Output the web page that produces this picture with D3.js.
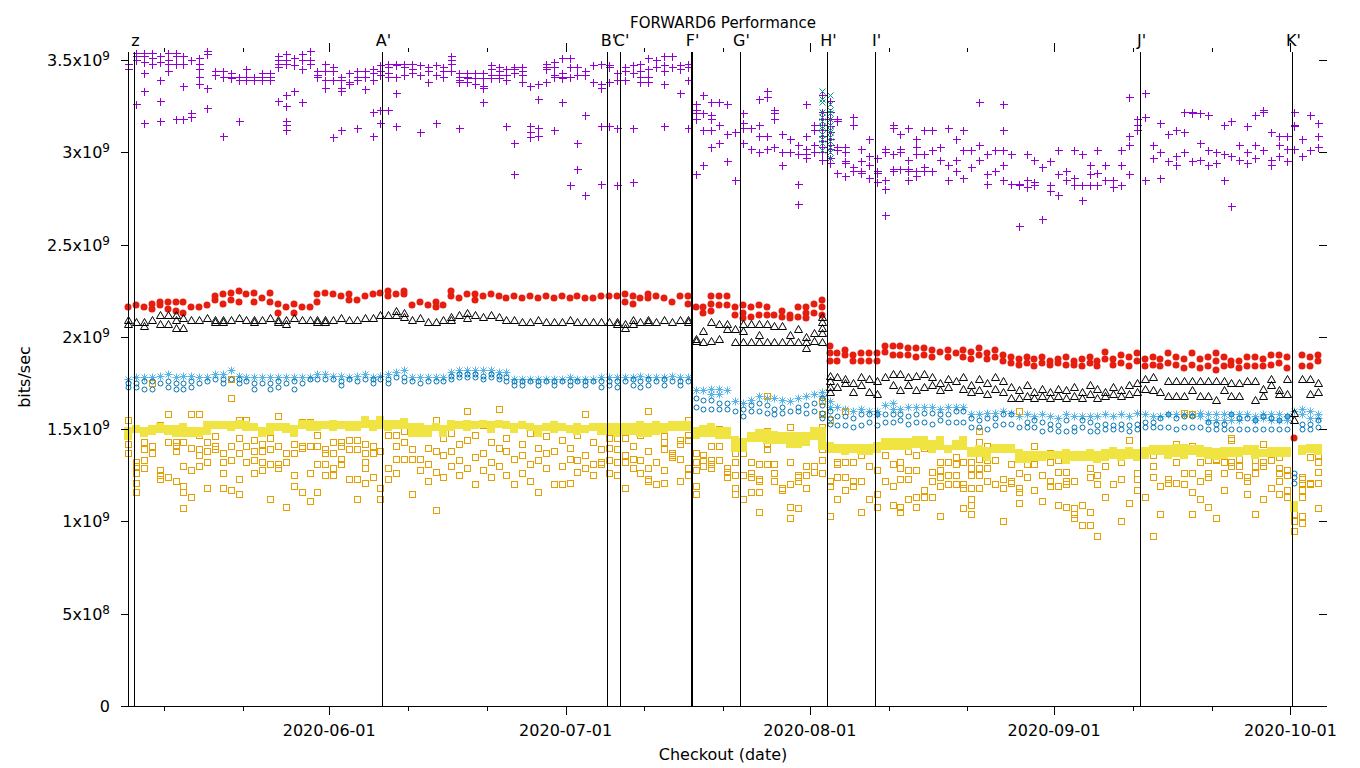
<!DOCTYPE html>
<html><head><meta charset="utf-8">
<script src="https://cdn.jsdelivr.net/npm/d3@7"></script>
<style>body{margin:0;background:#fff}svg{display:block}text{font-family:"DejaVu Sans",sans-serif;fill:#000}</style>
</head><body><svg id="c" width="1360" height="768"></svg>
<script>
// ---------- data ----------
const title = "FORWARD6 Performance";
const xLabel = "Checkout (date)";
const yLabel = "bits/sec";
const firstDay = "2020-05-06T12:00:00Z";   // day 0
const UNIT = 1e9;                            // values below are in 1e9 bits/sec
const yMax = 3.543;
const yTicks = [0, 0.5, 1, 1.5, 2, 2.5, 3, 3.5];
const monthTicks = ["2020-06-01","2020-07-01","2020-08-01","2020-09-01","2020-10-01"];
const minorTicks = ["2020-05-11","2020-05-21","2020-06-11","2020-06-21","2020-07-11","2020-07-21","2020-08-11","2020-08-21","2020-09-11","2020-09-21"];
const eventLabels = ["z","A'","B'","C'","F'","G'","H'","I'","J'","K'"];
const eventDays = [0.72, 32.2, 60.75, 62.4, 71.38, 77.64, 88.68, 94.77, 128.4, 147.7];

// each entry: [day, value, value, ...]
const purple = [
[0,3.48,3.45],[1,3.54,3.52,3.50,3.26],[2,3.54,3.52,3.49,3.43,3.33,3.16],[3,3.54,3.51,3.48],[4,3.52,3.49,3.39,3.28,3.17],[5,3.54,3.50,3.48,3.44],[6,3.54,3.52,3.48,3.18],[7,3.52,3.48,3.36,3.18],[8,3.50,3.21,3.19],[9,3.51,3.48,3.45,3.41,3.37],
[10,3.55,3.53,3.35,3.24],[11,3.44,3.42],[12,3.44,3.41,3.09],[13,3.43,3.41,3.40],[14,3.41,3.39,3.17],[15,3.45,3.41,3.39],[16,3.41,3.39],[17,3.43,3.41,3.39],[18,3.43,3.41,3.39],[19,3.52,3.50,3.48,3.46,3.28],
[20,3.53,3.50,3.48,3.31,3.25,3.17,3.15,3.12],[21,3.51,3.47,3.33],[22,3.53,3.50,3.45,3.27],[23,3.55,3.50,3.48],[24,3.44,3.42,3.41],[25,3.48,3.44,3.39,3.35],[26,3.46,3.44,3.39,3.08],[27,3.41,3.39,3.35,3.33,3.12],[28,3.43,3.38,3.37],[29,3.44,3.41,3.39,3.13],
[30,3.44,3.41,3.34],[31,3.45,3.43,3.39,3.22,3.09],[32,3.47,3.44,3.42,3.23,3.16],[33,3.48,3.46,3.43,3.41,3.23],[34,3.48,3.47,3.41,3.32,3.14],[35,3.48,3.46,3.42],[36,3.48,3.45,3.43],[37,3.47,3.42,3.11],[38,3.46,3.44,3.38,3.38],[39,3.47,3.42,3.16],
[40,3.46,3.44,3.41],[41,3.52,3.50,3.48,3.44],[42,3.43,3.41,3.39,3.38,3.13],[43,3.43,3.41,3.40,3.38],[44,3.43,3.40,3.37],[45,3.43,3.40,3.36,3.35,3.27],[46,3.47,3.45,3.42,3.40],[47,3.46,3.44,3.42,3.40],[48,3.45,3.42,3.39,3.14],[49,3.46,3.45,3.43,3.05,2.88],
[50,3.46,3.44,3.42,3.38],[51,3.36,3.14,3.11,3.08],[52,3.37,3.29,3.13,3.09],[53,3.48,3.46,3.45,3.38],[54,3.49,3.46,3.42,3.41,3.12],[55,3.51,3.43,3.41,3.40,3.27],[56,3.51,3.46,3.41,2.82],[57,3.46,3.42,3.05,2.91],[58,3.44,3.42,3.20,2.77],[59,3.47,3.38],
[60,3.48,3.37,3.35,3.14,2.83],[61,3.47,3.46,3.38,3.14],[62,3.43,3.39,3.13,2.82],[63,3.46,3.44,3.39],[64,3.47,3.43,3.13,2.84],[65,3.48,3.44,3.41,3.38],[66,3.51,3.45,3.41,3.38],[67,3.50,3.46],[68,3.52,3.47,3.44,3.37,3.14],[69,3.52,3.46],
[70,3.47,3.45,3.32],[71,3.48,3.46,3.39,3.13],[72,3.26,3.23,3.21,3.18,2.88],[73,3.31,3.21,3.12,2.93],[74,3.27,3.20,3.18,3.12,3.03],[75,3.27,3.15,3.05],[76,3.26,3.10,2.95],[77,3.11,2.85],[78,3.21,3.16,3.13,3.05],[79,3.13,3.02],
[80,3.29,3.15,3.09,3.00],[81,3.33,3.30,3.09,3.02],[82,3.23,3.21,3.18,3.03],[83,3.10,3.00,2.93],[84,3.07,3.00],[85,3.04,2.99,2.83,2.72],[86,3.26,3.09,3.02,2.99,2.97],[87,3.15,3.12,3.04,3.00],[88,3.31,3.22,3.18,3.15,3.12,3.09,3.06,3.03,3.00,2.96],[89,3.28,3.22,3.18,3.14,3.11,3.07,3.04,3.02,2.97,2.94],
[90,3.18,3.17,3.03,3.01,2.89],[91,3.03,3.00,2.95,2.94,2.87],[92,3.19,3.15,2.92,2.90],[93,3.02,2.95,2.90,2.89],[94,3.07,2.98,2.93,2.86],[95,2.97,2.90,2.89,2.84],[96,3.02,3.00,2.85,2.80,2.66],[97,3.15,3.13,2.99,2.91,2.90],[98,3.10,3.02,3.00,2.91],[99,3.13,2.96,2.91,2.90,2.85],
[100,3.07,3.03,2.99,2.90,2.87],[101,3.12,2.99,2.92,2.90],[102,3.12,3.01,2.90],[103,3.03,2.96],[104,3.13,2.93,2.85],[105,3.07,2.96,2.90],[106,3.12,3.01,2.86],[107,3.01,2.92],[108,3.27,3.04,2.96],[109,2.99,2.88,2.83],
[110,3.01,2.90],[111,3.26,3.12,3.01,2.93,2.85],[112,2.99,2.83],[113,2.83,2.82,2.60],[114,2.99,2.85,2.81],[115,2.96,2.84,2.82],[116,2.92,2.64],[117,2.95,2.82,2.79],[118,3.01,2.88,2.77],[119,2.90,2.85],
[120,3.01,2.86,2.82],[121,2.99,2.82,2.74],[122,2.93,2.88,2.82],[123,3.01,2.89,2.82],[124,2.93,2.85],[125,2.85,2.81],[126,3.01,2.93,2.82],[127,3.30,3.09,3.04,2.88],[128,3.18,3.15,3.12],[129,3.32,3.19,2.85],
[130,3.04,2.97],[131,3.16,3.00,2.86],[132,3.10,2.95],[133,3.12,2.98,2.93],[134,3.22,3.11,3.00],[135,3.22,3.21,2.95],[136,3.21,3.05,2.96],[137,3.20,3.01,2.93],[138,3.00,2.94],[139,3.15,2.99,2.85],
[140,3.17,2.98,2.71],[141,3.04,2.96],[142,3.14,3.00,2.94],[143,3.20,3.04,2.97],[144,3.23,3.22,3.01],[145,3.11,2.96,2.93],[146,3.09,3.04,2.98],[147,3.09,3.02,2.95],[148,3.22,3.15,3.14,3.02],[149,3.07,2.98],
[150,3.20,3.01],[151,3.16,3.09,3.03]
];
const green = [
[88,3.33,3.29,3.27,3.22,3.19,3.17,3.14,3.13,3.10,3.07,3.05,3.01],
[89,3.31,3.26,3.23,3.21,3.18,3.15,3.12,3.11,3.08,3.06,3.03,3.00,2.97]
];
const skyblue = [
[0,1.77],[1,1.78],[2,1.78],[3,1.78],[4,1.79],[5,1.80],[6,1.78],[7,1.79],[8,1.79],[9,1.78],
[10,1.78],[11,1.80],[12,1.80],[13,1.82],[14,1.79],[15,1.78],[16,1.78],[17,1.78],[18,1.78],[19,1.78],
[20,1.78],[21,1.78],[22,1.78],[23,1.78],[24,1.80],[25,1.80],[26,1.79],[27,1.79],[28,1.78],[29,1.79],
[30,1.80],[31,1.78],[32,1.79],[33,1.80],[34,1.81],[35,1.82],[36,1.78],[37,1.78],[38,1.78],[39,1.78],
[40,1.78],[41,1.81],[42,1.82],[43,1.82],[44,1.82],[45,1.82],[46,1.82],[47,1.81],[48,1.81],[49,1.77],
[50,1.77],[51,1.77],[52,1.77],[53,1.77],[54,1.77],[55,1.77],[56,1.78],[57,1.77],[58,1.77],[59,1.77],
[60,1.78],[61,1.78],[62,1.78],[63,1.78],[64,1.78],[65,1.79],[66,1.78],[67,1.78],[68,1.78],[69,1.79],
[70,1.78],[71,1.78],[72,1.71],[73,1.71],[74,1.72,1.69],[75,1.72,1.69],[76,1.71],[77,1.65],[78,1.64],[79,1.66],
[80,1.68],[81,1.67],[82,1.67],[83,1.66],[84,1.65],[85,1.67],[86,1.68],[87,1.69],[88,1.70,1.68],[89,1.65,1.62],
[90,1.62],[91,1.61],[92,1.60],[93,1.61],[94,1.60],[95,1.60,1.58],[96,1.63],[97,1.64,1.61],[98,1.61],[99,1.62],
[100,1.62],[101,1.62],[102,1.62],[103,1.61],[104,1.62],[105,1.62],[106,1.62],[107,1.58],[108,1.58],[109,1.59],
[110,1.59],[111,1.60],[112,1.59],[113,1.57],[114,1.58],[115,1.57],[116,1.58],[117,1.57],[118,1.56],[119,1.58],
[120,1.57],[121,1.57],[122,1.57],[123,1.57],[124,1.58],[125,1.57],[126,1.58],[127,1.57],[128,1.59],[129,1.58],
[130,1.57],[131,1.57],[132,1.58],[133,1.58],[134,1.58],[135,1.58],[136,1.59,1.57],[137,1.58,1.55],[138,1.58,1.55],[139,1.58,1.55],
[140,1.58,1.55],[141,1.58,1.55],[142,1.58],[143,1.57,1.55],[144,1.58,1.56],[145,1.58,1.55],[146,1.58,1.55],[147,1.57,1.55],[148,1.60],[149,1.61,1.58],
[150,1.60,1.56],[151,1.58,1.56]
];
const orange = [
[0,1.55,1.42,1.37],[1,1.32,1.30,1.26,1.21,1.16],[2,1.43,1.39,1.33,1.29],[3,1.75,1.41,1.37],[4,1.52,1.28,1.25,1.23],[5,1.58,1.43,1.24],[6,1.43,1.41,1.38,1.22],[7,1.43,1.30,1.19,1.16,1.07],[8,1.58,1.40,1.28,1.13],[9,1.58,1.47,1.39,1.36,1.30],
[10,1.43,1.38,1.32,1.18],[11,1.46,1.41,1.39],[12,1.37,1.32,1.26,1.18],[13,1.77,1.67,1.41,1.33,1.17],[14,1.55,1.45,1.37,1.23,1.15],[15,1.55,1.41,1.32],[16,1.44,1.38,1.33,1.26],[17,1.42,1.38,1.32,1.28],[18,1.45,1.39,1.31,1.12],[19,1.57,1.41,1.31,1.29],
[20,1.37,1.32,1.08],[21,1.42,1.37,1.25,1.19],[22,1.54,1.41,1.40,1.16],[23,1.54,1.41,1.26,1.11],[24,1.47,1.41,1.31,1.16],[25,1.39,1.37,1.31,1.25],[26,1.43,1.37,1.29,1.25],[27,1.43,1.41,1.34,1.31],[28,1.44,1.39,1.23],[29,1.44,1.39,1.23,1.12],
[30,1.42,1.37,1.32,1.29,1.21],[31,1.41,1.37,1.24],[32,1.38,1.18,1.12],[33,1.47,1.29,1.23],[34,1.47,1.41,1.34,1.26],[35,1.49,1.43,1.34],[36,1.39,1.34,1.15],[37,1.50,1.34,1.28],[38,1.40,1.31,1.22],[39,1.55,1.38,1.27,1.06],
[40,1.45,1.36,1.24],[41,1.48,1.38,1.30],[42,1.42,1.33,1.25],[43,1.60,1.44,1.29],[44,1.47,1.35,1.20],[45,1.52,1.37,1.28],[46,1.43,1.32,1.24],[47,1.61,1.40,1.30],[48,1.45,1.38,1.25],[49,1.50,1.34,1.20],
[50,1.42,1.36,1.26],[51,1.48,1.31,1.22],[52,1.40,1.33,1.16],[53,1.46,1.37,1.29],[54,1.51,1.38,1.20],[55,1.44,1.30,1.20],[56,1.40,1.34,1.21],[57,1.47,1.33,1.27],[58,1.58,1.36,1.29],[59,1.43,1.31,1.25],
[60,1.39,1.32,1.31],[61,1.45,1.40,1.33,1.26],[62,1.45,1.39,1.32,1.25],[63,1.45,1.36,1.32,1.18],[64,1.41,1.34,1.29],[65,1.47,1.33,1.26],[66,1.60,1.38,1.29,1.23,1.22],[67,1.32,1.20],[68,1.46,1.43,1.39,1.28,1.21],[69,1.37,1.36,1.35],
[70,1.44,1.42,1.34,1.22],[71,1.55,1.47,1.44,1.29,1.25],[72,1.37,1.32,1.28,1.19,1.15],[73,1.36,1.33,1.30],[74,1.51,1.41,1.33,1.31,1.29],[75,1.50,1.41,1.33],[76,1.29,1.27,1.24],[77,1.37,1.32,1.25,1.18,1.15],[78,1.37,1.25,1.12],[79,1.32,1.26,1.24,1.16],
[80,1.31,1.23,1.22,1.16,1.05],[81,1.68,1.49,1.42,1.39,1.31],[82,1.31,1.26,1.22],[83,1.18,1.17],[84,1.51,1.32,1.20,1.08,1.02],[85,1.46,1.25,1.24,1.22,1.07],[86,1.46,1.30,1.25,1.18],[87,1.46,1.30,1.27],[88,1.65,1.58,1.51,1.42,1.39,1.33,1.26],[89,1.55,1.22,1.19,1.03],
[90,1.32,1.31,1.24,1.12],[91,1.60,1.32,1.24,1.17],[92,1.32,1.22,1.19],[93,1.36,1.22,1.05],[94,1.30,1.12],[95,1.28,1.15,1.08],[96,1.36,1.22],[97,1.31,1.19,1.09],[98,1.32,1.29,1.23,1.08,1.05],[99,1.38,1.28,1.23,1.12],
[100,1.36,1.28,1.13,1.08],[101,1.40,1.17,1.13],[102,1.27,1.22,1.13],[103,1.32,1.28,1.24,1.19,1.03],[104,1.32,1.25,1.20],[105,1.35,1.31,1.25,1.20],[106,1.32,1.20,1.18,1.07],[107,1.32,1.29,1.25,1.18,1.12,1.09,1.04],[108,1.49,1.43,1.34,1.29,1.25,1.18],[109,1.41,1.33,1.29,1.22],
[110,1.33,1.20],[111,1.23,1.18,1.00],[112,1.31,1.22,1.21],[113,1.60,1.26,1.18,1.16,1.10],[114,1.31,1.24],[115,1.41,1.31,1.17],[116,1.25,1.11],[117,1.37,1.32,1.22,1.19],[118,1.33,1.27,1.19,1.09],[119,1.27,1.22,1.20,1.08],
[120,1.22,1.07,1.04,1.02],[121,1.09,0.98],[122,1.29,1.24,1.05,0.98],[123,1.25,1.20,0.92],[124,1.30,1.13],[125,1.37,1.20],[126,1.32,1.23,1.00],[127,1.44,1.10],[128,1.26,1.23,1.17],[129,1.37,1.13],
[130,1.36,1.30,1.24,0.92],[131,1.19,1.04],[132,1.23,1.21],[133,1.42,1.32,1.21],[134,1.59,1.26,1.20],[135,1.58,1.41,1.26,1.16,1.04],[136,1.32,1.22,1.12],[137,1.33,1.26,1.24,1.08],[138,1.34,1.33,1.02],[139,1.32,1.26,1.17],
[140,1.45,1.44,1.32,1.30],[141,1.34,1.30,1.25],[142,1.24,1.22,1.15],[143,1.33,1.30,1.26,1.04],[144,1.42,1.32,1.30,1.12],[145,1.33,1.18],[146,1.35,1.29,1.26,1.22,1.15],[147,1.28,1.25,1.17,1.13],[148,1.04,1.00,0.95],[149,1.24,1.23,1.21,1.17,1.13,1.03,0.99],
[150,1.35,1.21,1.20],[151,1.36,1.32,1.27,1.21,1.07]
];
const yellow = [
[0,1.49,1.46],[1,1.50],[2,1.49,1.48],[3,1.50,1.49],[4,1.51,1.50],[5,1.50,1.49],[6,1.50,1.48],[7,1.51,1.48],[8,1.49,1.48],[9,1.49,1.48],
[10,1.52,1.49],[11,1.52],[12,1.52],[13,1.52,1.51],[14,1.53,1.52],[15,1.52,1.51],[16,1.51],[17,1.49,1.48],[18,1.51,1.49],[19,1.51],
[20,1.51,1.50],[21,1.50,1.48],[22,1.53,1.52],[23,1.53,1.51],[24,1.52,1.51],[25,1.52],[26,1.53,1.51],[27,1.52],[28,1.52,1.51],[29,1.52,1.51],
[30,1.55,1.53],[31,1.53,1.51],[32,1.55,1.52],[33,1.53,1.51],[34,1.53,1.52],[35,1.54,1.52],[36,1.51,1.48],[37,1.51,1.48],[38,1.50,1.48],[39,1.51],
[40,1.50,1.48],[41,1.53,1.51],[42,1.52],[43,1.53,1.51],[44,1.52],[45,1.53],[46,1.52,1.50],[47,1.53],[48,1.52],[49,1.51,1.50],
[50,1.52],[51,1.51],[52,1.50,1.48],[53,1.51],[54,1.52,1.50],[55,1.51],[56,1.50],[57,1.51,1.49],[58,1.50],[59,1.51],
[60,1.51,1.49],[61,1.51,1.49],[62,1.51,1.48],[63,1.51,1.49],[64,1.51,1.49],[65,1.52,1.48],[66,1.51,1.48],[67,1.52,1.49],[68,1.51,1.50],[69,1.52,1.51],
[70,1.52,1.51],[71,1.52,1.51],[72,1.49,1.47],[73,1.50,1.48],[74,1.51,1.48],[75,1.49,1.47],[76,1.49,1.47],[77,1.44,1.40],[78,1.43,1.40],[79,1.46,1.45],
[80,1.48,1.45],[81,1.48,1.44],[82,1.47,1.44],[83,1.46,1.44],[84,1.46,1.42],[85,1.46,1.42],[86,1.46,1.43],[87,1.49,1.46],[88,1.49,1.45,1.41],[89,1.41,1.39],
[90,1.40,1.39],[91,1.40,1.38],[92,1.40,1.39],[93,1.40,1.38],[94,1.40,1.38],[95,1.41,1.39],[96,1.43,1.41],[97,1.43,1.41],[98,1.43,1.41],[99,1.43,1.41],
[100,1.44,1.42],[101,1.44,1.41],[102,1.42,1.39],[103,1.44,1.41],[104,1.39],[105,1.42,1.41],[106,1.44,1.41],[107,1.38,1.37],[108,1.39,1.37],[109,1.38,1.35],
[110,1.40,1.39],[111,1.40,1.39],[112,1.40,1.39],[113,1.37,1.34],[114,1.36,1.34],[115,1.36,1.35],[116,1.36,1.35],[117,1.36],[118,1.36],[119,1.37,1.33],
[120,1.36,1.35],[121,1.36,1.35],[122,1.37,1.35],[123,1.36,1.34],[124,1.37,1.35],[125,1.38,1.36],[126,1.37,1.35],[127,1.38,1.36],[128,1.37,1.35],[129,1.38,1.36],
[130,1.39,1.38],[131,1.39,1.38],[132,1.39,1.36],[133,1.40,1.37],[134,1.40,1.36],[135,1.39,1.38],[136,1.39,1.37],[137,1.38,1.36],[138,1.375,1.355],[139,1.38,1.36],
[140,1.38,1.37],[141,1.38,1.37],[142,1.39,1.38],[143,1.39,1.36],[144,1.37],[145,1.38,1.37],[146,1.38,1.37],[147,1.38,1.37],[148,1.09,1.07],[149,1.39,1.38],
[150,1.40,1.39],[151,1.40,1.38]
];
const blue = [
[0,1.75,1.73],[1,1.75,1.73],[2,1.76,1.72],[3,1.76,1.72],[4,1.75],[5,1.76,1.73],[6,1.75,1.72],[7,1.75,1.72],[8,1.76,1.73],[9,1.75],
[10,1.76],[11,1.77],[12,1.77,1.75],[13,1.77],[14,1.77,1.75],[15,1.76],[16,1.75,1.72],[17,1.75],[18,1.75,1.72],[19,1.76,1.73],
[20,1.75],[21,1.76,1.72],[22,1.75],[23,1.77],[24,1.77],[25,1.77],[26,1.77],[27,1.76,1.74],[28,1.77],[29,1.76],
[30,1.77],[31,1.77,1.75],[32,1.77],[33,1.77,1.75],[34,1.78],[35,1.78,1.76],[36,1.76],[37,1.75],[38,1.76],[39,1.76],
[40,1.76],[41,1.79,1.77],[42,1.80,1.78],[43,1.80,1.78],[44,1.80,1.78],[45,1.79,1.77],[46,1.80,1.78],[47,1.79,1.77],[48,1.78,1.76],[49,1.76,1.74],
[50,1.76,1.74],[51,1.76],[52,1.76,1.74],[53,1.76],[54,1.76,1.74],[55,1.76],[56,1.76,1.74],[57,1.76],[58,1.76,1.74],[59,1.76],
[60,1.76,1.73],[61,1.76,1.74],[62,1.76,1.73],[63,1.76],[64,1.77,1.74],[65,1.76,1.73],[66,1.77,1.74],[67,1.76],[68,1.77,1.74],[69,1.76],
[70,1.76,1.74],[71,1.76],[72,1.67,1.62],[73,1.66,1.61],[74,1.66,1.61],[75,1.64,1.61],[76,1.64,1.61],[77,1.60],[78,1.61,1.57],[79,1.63,1.60],
[80,1.64,1.60],[81,1.63,1.59],[82,1.61,1.58],[83,1.62,1.59],[84,1.60],[85,1.62,1.60],[86,1.63,1.59],[87,1.64,1.60],[88,1.67,1.63,1.59,1.56],[89,1.60,1.56,1.53],
[90,1.57,1.52],[91,1.57,1.52],[92,1.56,1.51],[93,1.58,1.52],[94,1.58,1.54],[95,1.58,1.52],[96,1.58,1.54],[97,1.58,1.54],[98,1.58,1.55],[99,1.57,1.53],
[100,1.58,1.54],[101,1.59,1.54],[102,1.59,1.53],[103,1.58,1.55],[104,1.58,1.54],[105,1.60,1.54],[106,1.60,1.54],[107,1.56,1.51],[108,1.55,1.51],[109,1.56,1.50],
[110,1.56,1.52],[111,1.58,1.53],[112,1.58,1.53],[113,1.51],[114,1.54,1.51],[115,1.55,1.51],[116,1.54,1.49],[117,1.53,1.50],[118,1.52,1.49],[119,1.55,1.49],
[120,1.51,1.49],[121,1.55,1.51],[122,1.54,1.49],[123,1.52,1.49],[124,1.53,1.50],[125,1.52,1.50],[126,1.53,1.50],[127,1.52,1.49],[128,1.53,1.50],[129,1.54,1.51],
[130,1.54,1.51],[131,1.56,1.51],[132,1.58,1.51],[133,1.56,1.50],[134,1.57,1.51],[135,1.57,1.51],[136,1.51],[137,1.54,1.50],[138,1.53,1.50],[139,1.53,1.50],
[140,1.58,1.50],[141,1.56,1.50],[142,1.56,1.50],[143,1.55,1.50],[144,1.57,1.50],[145,1.56,1.50],[146,1.55,1.50],[147,1.57,1.50],[148,1.26,1.24,1.21],[149,1.53,1.50],
[150,1.53,1.50],[151,1.55,1.51]
];
const red = [
[0,2.16],[1,2.17],[2,2.16],[3,2.15,2.18],[4,2.17,2.19],[5,2.15,2.19],[6,2.14,2.19],[7,2.13,2.19],[8,2.16],[9,2.16],
[10,2.17],[11,2.20,2.22],[12,2.18,2.23],[13,2.20,2.24],[14,2.19,2.25],[15,2.23],[16,2.19,2.24],[17,2.21],[18,2.19,2.24],[19,2.13,2.18],
[20,2.16],[21,2.13,2.18],[22,2.16],[23,2.16],[24,2.19,2.23],[25,2.24],[26,2.23],[27,2.22],[28,2.20,2.23],[29,2.20],
[30,2.22],[31,2.23],[32,2.24],[33,2.22,2.25],[34,2.23],[35,2.23,2.25],[36,2.17],[37,2.19],[38,2.17],[39,2.16,2.19],
[40,2.17],[41,2.22,2.25],[42,2.21],[43,2.23],[44,2.20,2.23],[45,2.22],[46,2.23],[47,2.22],[48,2.21],[49,2.22],
[50,2.21],[51,2.22],[52,2.21],[53,2.22],[54,2.21],[55,2.22],[56,2.21],[57,2.22],[58,2.21],[59,2.21],
[60,2.22],[61,2.22],[62,2.22],[63,2.23,2.19],[64,2.22,2.18],[65,2.21],[66,2.23,2.21],[67,2.22],[68,2.21],[69,2.19],
[70,2.22],[71,2.22,2.18],[72,2.16],[73,2.16,2.13],[74,2.22,2.18,2.14],[75,2.22,2.17],[76,2.22,2.17],[77,2.16,2.12],[78,2.17,2.13,2.10],[79,2.16,2.11],
[80,2.17,2.12],[81,2.16,2.12],[82,2.12],[83,2.14,2.11],[84,2.12,2.10],[85,2.16,2.11],[86,2.16,2.13,2.10],[87,2.18,2.13],[88,2.20,2.16,2.12],[89,1.95,1.91,1.87],
[90,1.91,1.87],[91,1.93,1.90],[92,1.90,1.87],[93,1.91,1.87],[94,1.91,1.87],[95,1.91,1.87],[96,1.95,1.92],[97,1.95,1.90],[98,1.95,1.90],[99,1.94,1.90],
[100,1.94,1.89],[101,1.94,1.90],[102,1.93,1.89],[103,1.92],[104,1.93,1.89],[105,1.91],[106,1.93,1.89],[107,1.92,1.88],[108,1.94,1.90],[109,1.91,1.88],
[110,1.93,1.89],[111,1.90,1.87],[112,1.89,1.86],[113,1.88,1.85],[114,1.89,1.86],[115,1.88,1.84],[116,1.89,1.86],[117,1.87,1.85],[118,1.88,1.86],[119,1.89,1.85],
[120,1.87,1.85],[121,1.88,1.84],[122,1.89,1.86],[123,1.87,1.84],[124,1.92,1.88],[125,1.88,1.85],[126,1.90,1.86],[127,1.89,1.84],[128,1.91,1.87],[129,1.88,1.84],
[130,1.89,1.85],[131,1.88,1.84],[132,1.91,1.86],[133,1.89,1.85],[134,1.88,1.83],[135,1.91,1.85],[136,1.88,1.83],[137,1.89,1.84],[138,1.91,1.87,1.82],[139,1.89,1.84],
[140,1.87,1.85],[141,1.87,1.83],[142,1.89,1.84],[143,1.89,1.84],[144,1.88,1.84],[145,1.90,1.85],[146,1.90,1.86],[147,1.89,1.83],[148,1.45],[149,1.90,1.84],
[150,1.89,1.84],[151,1.90,1.87]
];
const black = [
[0,2.07,2.09],[1,2.08],[2,2.06,2.08],[3,2.09],[4,2.07,2.12],[5,2.07,2.12],[6,2.05,2.09,2.12],[7,2.05,2.10],[8,2.09],[9,2.09],
[10,2.10],[11,2.08,2.09],[12,2.08,2.09],[13,2.09],[14,2.10],[15,2.09],[16,2.08,2.09],[17,2.09],[18,2.10],[19,2.08,2.09],
[20,2.07,2.09],[21,2.10],[22,2.09],[23,2.09],[24,2.08,2.09],[25,2.08,2.09],[26,2.09],[27,2.10],[28,2.09],[29,2.09],
[30,2.10],[31,2.10],[32,2.12],[33,2.12],[34,2.12,2.14],[35,2.11,2.13],[36,2.09],[37,2.10],[38,2.08],[39,2.08],
[40,2.09],[41,2.09,2.11],[42,2.12],[43,2.10,2.13],[44,2.12],[45,2.11],[46,2.12],[47,2.11],[48,2.09],[49,2.09],
[50,2.08],[51,2.08],[52,2.09],[53,2.08],[54,2.08],[55,2.08],[56,2.09],[57,2.08],[58,2.08],[59,2.08],
[60,2.08],[61,2.08],[62,2.07,2.08],[63,2.05,2.07],[64,2.07,2.09],[65,2.08],[66,2.08,2.09],[67,2.08],[68,2.09],[69,2.08],
[70,2.09],[71,2.08,2.09],[72,1.99,1.98],[73,2.03,1.97],[74,2.08,1.98],[75,2.07,1.99],[76,2.07,2.04],[77,2.04,1.97],[78,2.07,2.03,1.97],[79,2.07,1.97],
[80,2.07,2.01,1.97],[81,2.07,1.97],[82,2.06,1.97],[83,2.06,1.97],[84,2.01,1.97],[85,2.04,1.97],[86,2.00,1.97,1.94],[87,2.02,1.98],[88,2.11,2.08,2.05,2.02,1.97],[89,1.79,1.76,1.73,1.70],
[90,1.78,1.73],[91,1.77,1.75],[92,1.75,1.70],[93,1.78,1.74],[94,1.77,1.70],[95,1.76,1.69],[96,1.78],[97,1.80,1.74],[98,1.80,1.71],[99,1.78,1.74],
[100,1.79,1.71],[101,1.80,1.73],[102,1.78,1.74],[103,1.75,1.71],[104,1.77,1.73],[105,1.76],[106,1.78,1.72],[107,1.74,1.70],[108,1.77,1.71],[109,1.75,1.69],
[110,1.78,1.72],[111,1.76,1.70],[112,1.73,1.67],[113,1.71,1.67],[114,1.74,1.68],[115,1.70,1.67],[116,1.72,1.68],[117,1.70,1.67],[118,1.72,1.68],[119,1.71,1.67],
[120,1.73,1.68],[121,1.70,1.67],[122,1.74,1.69],[123,1.72,1.67],[124,1.70,1.68],[125,1.73,1.69],[126,1.71,1.68],[127,1.74,1.69],[128,1.75,1.70],[129,1.77,1.72],
[130,1.78,1.71],[131,1.70],[132,1.76,1.68],[133,1.76,1.68],[134,1.76,1.68],[135,1.76,1.71],[136,1.76,1.68],[137,1.76,1.68],[138,1.76,1.66],[139,1.76,1.71],
[140,1.75,1.68],[141,1.75,1.68],[142,1.76],[143,1.76,1.66],[144,1.72,1.68],[145,1.77,1.74],[146,1.71,1.69],[147,1.77,1.69],[148,1.59,1.55],[149,1.77],
[150,1.77,1.69],[151,1.75,1.70]
];

// ---------- styles ----------
const seriesStyle = [
  {data: purple,  color: "#9400D3", shape: "plus"},
  {data: green,   color: "#009E73", shape: "cross"},
  {data: skyblue, color: "#56B4E9", shape: "star"},
  {data: orange,  color: "#E69F00", shape: "openSquare"},
  {data: yellow,  color: "#F0E442", shape: "filledSquare"},
  {data: blue,    color: "#0072B2", shape: "openCircle"},
  {data: red,     color: "#E51E10", shape: "filledCircle"},
  {data: black,   color: "#000000", shape: "openTriangle"}
];
// stroked shapes are drawn around a half-pixel centre, filled ones around a whole-pixel centre
const shapes = {
  plus:        {d: "M-4,0H4M0,-4V4", fill: false, crisp: true},
  cross:       {d: "M-3,-3L3,3M-3,3L3,-3", fill: false, crisp: false},
  star:        {d: "M-4,0H4M0,-4V4M-3,-3L3,3M-3,3L3,-3", fill: false, crisp: false},
  openSquare:  {d: "M-3,-3H3V3H-3Z", fill: false, crisp: true},
  filledSquare:{d: "M-4,-4H4V4H-4Z", fill: true, crisp: true},
  openCircle:  {d: "M-2.5,0A2.5,2.5 0 1,0 2.5,0A2.5,2.5 0 1,0 -2.5,0", fill: false, crisp: false},
  filledCircle:{d: "M-3.5,0A3.5,3.5 0 1,0 3.5,0A3.5,3.5 0 1,0 -3.5,0", fill: true, crisp: false},
  openTriangle:{d: "M0,-4L4,3H-4Z", fill: false, crisp: false}
};

// ---------- layout ----------
const L = 128, R = 1319, T = 52, B = 706;
const svg = d3.select("#c");
const DAY = 864e5;
const t0 = new Date(firstDay).getTime();
const dayDate = k => new Date(t0 + k * DAY);
const x = d3.scaleUtc().domain([dayDate(-0.038), dayDate(151.12)]).range([L, R]);
const y = d3.scaleLinear().domain([0, yMax * UNIT]).range([B, T]);
const px = v => Math.round(v) + 0.5;

// points
const gPts = svg.append("g");
seriesStyle.forEach(s => {
  const pts = [];
  s.data.forEach(e => { for (let i = 1; i < e.length; i++) pts.push({k: e[0], v: e[i]}); });
  const sh = shapes[s.shape];
  const off = sh.fill ? 0 : 0.5;
  gPts.append("g").attr("shape-rendering", sh.crisp ? "crispEdges" : "auto")
    .selectAll("path").data(pts).join("path")
    .attr("d", sh.d)
    .attr("transform", d => `translate(${Math.round(x(dayDate(d.k))) + off},${Math.round(y(d.v * UNIT)) + off})`)
    .attr("fill", sh.fill ? s.color : "none")
    .attr("stroke", sh.fill ? "none" : s.color)
    .attr("stroke-width", 1);
});

// event lines
const gEv = svg.append("g");
eventLabels.forEach((lab, i) => {
  const xv = Math.round(x(dayDate(eventDays[i])));
  const w = lab === "F'" ? 2 : 1;
  gEv.append("line").attr("x1", xv + w / 2).attr("x2", xv + w / 2).attr("y1", T).attr("y2", B)
    .attr("stroke", "#000").attr("stroke-width", w).attr("shape-rendering", "crispEdges");
  gEv.append("text").attr("x", xv + 1.5).attr("y", 46).attr("text-anchor", "middle")
    .attr("font-size", 16).text(lab);
});

// axes
const gA = svg.append("g").attr("stroke", "#000").attr("stroke-width", 1).attr("shape-rendering", "crispEdges");
gA.append("line").attr("x1", L + 0.5).attr("x2", L + 0.5).attr("y1", T).attr("y2", B + 1);
gA.append("line").attr("x1", L).attr("x2", R).attr("y1", B + 0.5).attr("y2", B + 0.5);
yTicks.forEach(v => {
  const yy = px(y(v * UNIT));
  gA.append("line").attr("x1", L - 7).attr("x2", L).attr("y1", yy).attr("y2", yy);
  gA.append("line").attr("x1", R).attr("x2", R + 8).attr("y1", yy).attr("y2", yy);
});
monthTicks.forEach(s => {
  const xx = px(x(new Date(s + "T00:00:00Z")));
  gA.append("line").attr("x1", xx).attr("x2", xx).attr("y1", B).attr("y2", B + 9);
  gA.append("line").attr("x1", xx).attr("x2", xx).attr("y1", T).attr("y2", T - 9);
});
minorTicks.forEach(s => {
  const xx = px(x(new Date(s + "T00:00:00Z")));
  gA.append("line").attr("x1", xx).attr("x2", xx).attr("y1", B).attr("y2", B + 5);
  gA.append("line").attr("x1", xx).attr("x2", xx).attr("y1", T).attr("y2", T - 4);
});

// tick labels
const gL = svg.append("g").attr("font-size", 16);
yTicks.forEach(v => {
  const yy = y(v * UNIT) + 6;
  const t = gL.append("text").attr("x", 110).attr("y", yy).attr("text-anchor", "end");
  if (v === 0) { t.text("0"); return; }
  const val = v * UNIT;
  const e = Math.floor(Math.log10(val) + 1e-9);
  const m = +(val / Math.pow(10, e)).toFixed(2);
  t.append("tspan").text(m + "x10");
  t.append("tspan").attr("font-size", 12).attr("dy", -6).text(e);
});
const fmt = d3.utcFormat("%Y-%m-%d");
monthTicks.forEach(s => {
  const d = new Date(s + "T00:00:00Z");
  gL.append("text").attr("x", x(d)).attr("y", 736).attr("text-anchor", "middle").text(fmt(d));
});

// titles
svg.append("text").attr("x", 723).attr("y", 27.5).attr("text-anchor", "middle").attr("font-size", 15).text(title);
svg.append("text").attr("x", 723).attr("y", 760).attr("text-anchor", "middle").attr("font-size", 16).text(xLabel);
svg.append("text").attr("transform", "translate(30,377) rotate(-90)").attr("text-anchor", "middle").attr("font-size", 16).text(yLabel);
</script></body></html>
